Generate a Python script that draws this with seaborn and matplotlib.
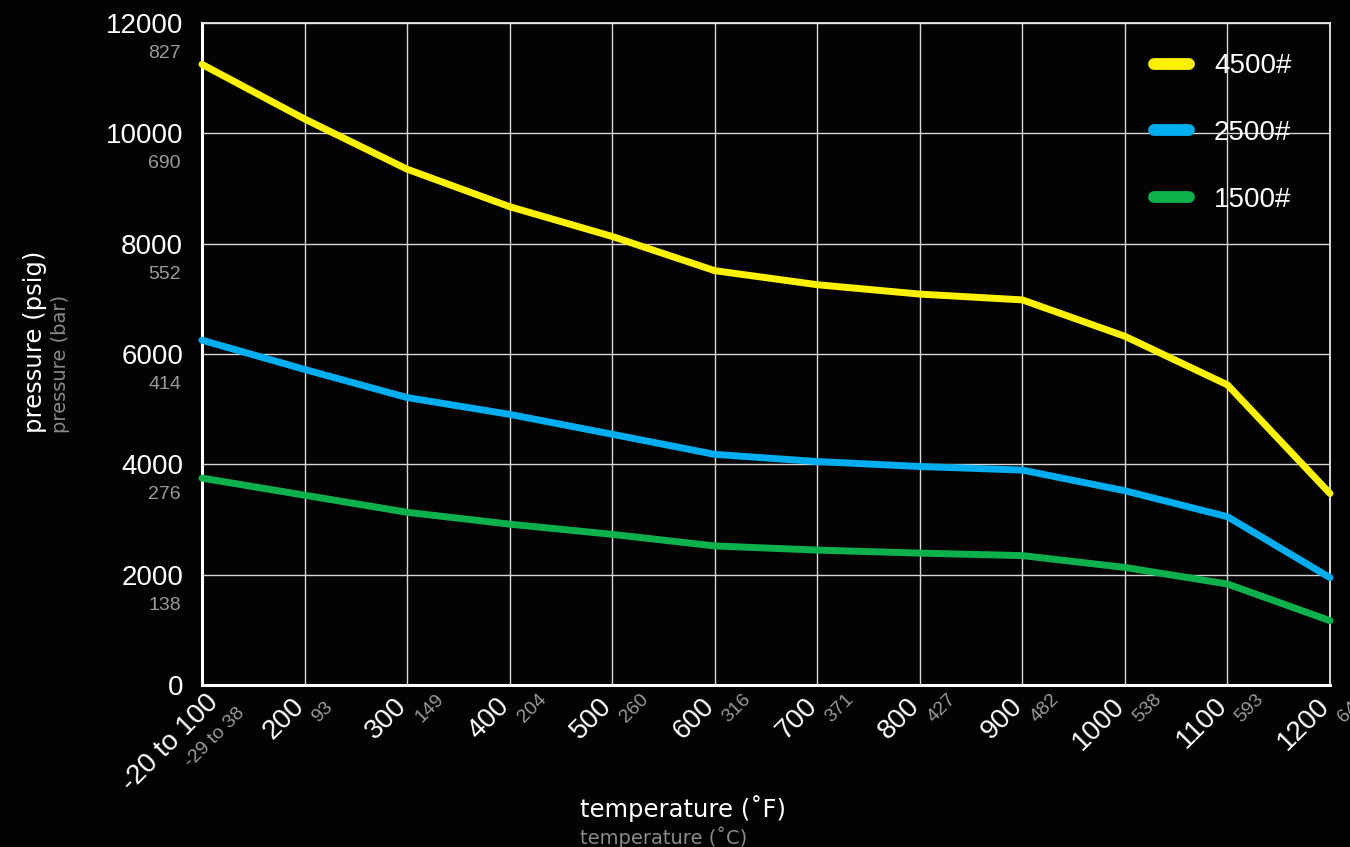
import matplotlib
matplotlib.use("Agg")
import matplotlib.pyplot as plt
import matplotlib.transforms as mtransforms
import seaborn as sns
import pandas as pd

# data
temp_f = [100, 200, 300, 400, 500, 600, 700, 800, 900, 1000, 1100, 1200]
temp_f_labels = ["-20 to 100", "200", "300", "400", "500", "600", "700", "800", "900", "1000", "1100", "1200"]
temp_c_labels = ["-29 to 38", "93", "149", "204", "260", "316", "371", "427", "482", "538", "593", "649"]

class_4500 = [11250, 10260, 9350, 8670, 8130, 7510, 7255, 7085, 6980, 6320, 5440, 3470]
class_2500 = [6250, 5720, 5210, 4905, 4545, 4180, 4050, 3960, 3895, 3520, 3050, 1945]
class_1500 = [3750, 3440, 3130, 2915, 2730, 2520, 2445, 2390, 2345, 2130, 1830, 1165]

series_names = ["4500#", "2500#", "1500#"]
series_colors = ["#fff200", "#00aeef", "#0db14b"]

psig_ticks = [0, 2000, 4000, 6000, 8000, 10000, 12000]
bar_labels = ["", "138", "276", "414", "552", "690", "827"]

df = pd.concat([
    pd.DataFrame({"temp": temp_f, "pressure": class_4500, "rating": "4500#"}),
    pd.DataFrame({"temp": temp_f, "pressure": class_2500, "rating": "2500#"}),
    pd.DataFrame({"temp": temp_f, "pressure": class_1500, "rating": "1500#"}),
])

bg = "#030303"
sns.set_theme(style="dark", rc={
    "figure.facecolor": bg,
    "axes.facecolor": bg,
    "savefig.facecolor": bg,
})
plt.rcParams["font.family"] = ["Liberation Sans", "DejaVu Sans"]

fig = plt.figure(figsize=(13.5, 8.47), dpi=100)
ax = fig.add_axes([0.1496, 0.1913, 0.8356, 0.7816])

sns.lineplot(data=df, x="temp", y="pressure", hue="rating", hue_order=series_names,
             palette=series_colors, linewidth=5, ax=ax, clip_on=False,
             solid_capstyle="round", zorder=3)

ax.set_xlim(100, 1200)
ax.set_ylim(0, 12000)
ax.set_xticks(temp_f)
ax.set_yticks(psig_ticks)
ax.set_xticklabels([])
ax.set_yticklabels([str(v) for v in psig_ticks], color="white", fontsize=20)
ax.tick_params(axis="both", length=0)
ax.tick_params(axis="y", pad=13.5)
ax.set_xlabel("")
ax.set_ylabel("")

ax.grid(True, color="#d8d8d8", linewidth=1.0, zorder=1)
for side in ["left", "bottom"]:
    ax.spines[side].set_color("white")
    ax.spines[side].set_linewidth(2.2)
for side in ["top", "right"]:
    ax.spines[side].set_color("#e8e8e8")
    ax.spines[side].set_linewidth(1.3)

# bar values under the psig ticks
ytrans = mtransforms.blended_transform_factory(ax.transAxes, ax.transData)
for v, lab in zip(psig_ticks, bar_labels):
    if lab:
        ax.text(0, v, lab, color="#9a9a9a", fontsize=14, ha="right", va="center",
                transform=ytrans + mtransforms.ScaledTranslation(-0.21, -0.305, fig.dpi_scale_trans))

# rotated temperature labels (F in white, C in grey)
xtrans = mtransforms.blended_transform_factory(ax.transData, ax.transAxes)
for i, (xv, flab, clab) in enumerate(zip(temp_f, temp_f_labels, temp_c_labels)):
    if i == 0:
        white_off = (0.18, -0.19)
    else:
        white_off = (0.01, -0.22)
    ax.text(xv, 0, flab, color="white", fontsize=20, rotation=45, rotation_mode="anchor",
            ha="right", va="baseline", clip_on=False,
            transform=xtrans + mtransforms.ScaledTranslation(*white_off, fig.dpi_scale_trans))
    if i == 0:
        ax.text(xv, 0, clab, color="#9a9a9a", fontsize=14, rotation=45, rotation_mode="anchor",
                ha="right", va="baseline", clip_on=False,
                transform=xtrans + mtransforms.ScaledTranslation(0.43, -0.29, fig.dpi_scale_trans))
    else:
        ax.text(xv, 0, clab, color="#9a9a9a", fontsize=14, rotation=45, rotation_mode="anchor",
                ha="left", va="baseline", clip_on=False,
                transform=xtrans + mtransforms.ScaledTranslation(0.14, -0.385, fig.dpi_scale_trans))

# axis titles
fig.text(35 / 1350, 1 - 433 / 847, "pressure (psig)", color="white", fontsize=17.5,
         rotation=90, ha="center", va="bottom", family="DejaVu Sans")
fig.text(61 / 1350, 1 - 433 / 847, "pressure (bar)", color="#8a8a8a", fontsize=14,
         rotation=90, ha="center", va="bottom", family="DejaVu Sans")
fig.text(580 / 1350, 1 - 817 / 847, "temperature (˚F)", color="white", fontsize=17.5,
         ha="left", va="baseline", family="DejaVu Sans")
fig.text(580 / 1350, 1 - 844 / 847, "temperature (˚C)", color="#8a8a8a", fontsize=14,
         ha="left", va="baseline", family="DejaVu Sans")

leg = ax.legend(loc="upper right", bbox_to_anchor=(0.988, 0.992), frameon=False,
                fontsize=20, handlelength=1.25, handletextpad=0.9, labelspacing=1.47)
for line in leg.get_lines():
    line.set_linewidth(8.5)
    line.set_solid_capstyle("round")
for t in leg.get_texts():
    t.set_color("white")

fig.savefig("out.png", dpi=100)
